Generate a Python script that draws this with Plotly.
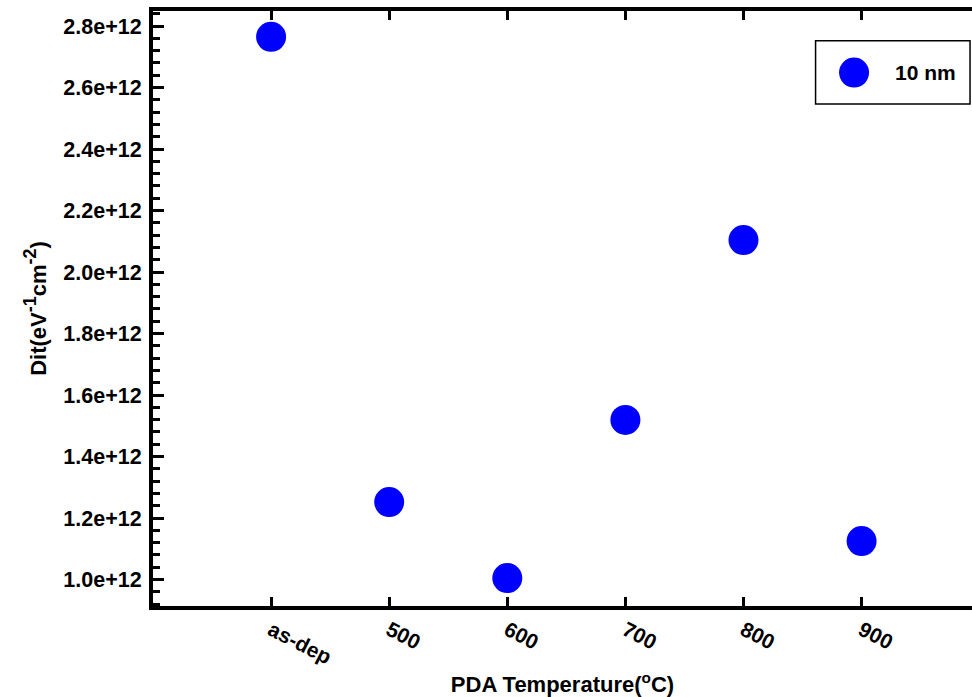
import plotly.graph_objects as go

# PDA temperature series and interface-trap density
categories = ["as-dep", "500", "600", "700", "800", "900"]
dit_values = [2.765e12, 1.252e12, 1.005e12, 1.519e12, 2.104e12, 1.125e12]
series_name = "10 nm"
y_tick_values = [1.0e12, 1.2e12, 1.4e12, 1.6e12, 1.8e12, 2.0e12, 2.2e12, 2.4e12, 2.6e12, 2.8e12]

FONT = "Liberation Sans, Arial, sans-serif"
BLUE = "#0000ff"

fig = go.Figure()
fig.add_trace(go.Scatter(
    x=categories, y=dit_values, mode="markers", name=series_name,
    marker=dict(color=BLUE, size=30, line=dict(width=0)),
    showlegend=False,
))

fig.update_layout(
    width=972, height=697,
    margin=dict(l=153, r=0, t=11, b=91),
    plot_bgcolor="white", paper_bgcolor="white",
    font=dict(family=FONT, color="black"),
    xaxis=dict(
        type="category", range=[-1, 5.935],
        showline=True, linecolor="black", linewidth=4, mirror="ticks",
        ticks="inside", ticklen=9, tickwidth=3, tickcolor="black",
        tickangle=27, showgrid=False, zeroline=False,
        tickfont=dict(size=21, weight="bold", family=FONT),
        title=dict(text="PDA Temperature(<sup>o</sup>C)",
                   font=dict(size=22, weight="bold", family=FONT), standoff=10),
    ),
    yaxis=dict(
        range=[0.914e12, 2.849e12],
        tickvals=y_tick_values, tickformat=".1e",
        showline=True, linecolor="black", linewidth=4, mirror=False,
        ticks="inside", ticklen=11, tickwidth=3, tickcolor="black",
        minor=dict(dtick=0.04e12, tick0=1.0e12, ticks="inside", ticklen=7,
                   tickwidth=3, tickcolor="black", showgrid=False),
        showgrid=False, zeroline=False,
        tickfont=dict(size=21.5, weight="bold", family=FONT),
        ticklabelstandoff=3,
        title=dict(text="Dit(eV<sup><span style=\"font-size:18px\">-1</span></sup>"
                        "cm<sup><span style=\"font-size:18px\">-2</span></sup>)",
                   font=dict(size=22, weight="bold", family=FONT), standoff=12),
    ),
    yaxis2=dict(
        overlaying="y", side="right", anchor="x", matches="y",
        range=[0.914e12, 2.849e12], tickvals=y_tick_values,
        showticklabels=False, showline=False, showgrid=False, zeroline=False,
        ticks="inside", ticklen=3, tickwidth=3, tickcolor="black",
    ),
)

# Legend box with a full-size marker
fig.add_shape(type="rect", xref="paper", yref="paper",
              x0=0.809, x1=0.9976, y0=0.8437, y1=0.950,
              line=dict(color="black", width=1.5), fillcolor="white", layer="above")
fig.add_shape(type="circle", xref="paper", yref="paper",
              xsizemode="pixel", ysizemode="pixel",
              xanchor=0.856, yanchor=0.8966, x0=-15, x1=15, y0=-15, y1=15,
              line=dict(width=0), fillcolor=BLUE, layer="above")
fig.add_annotation(xref="paper", yref="paper", x=0.9035, y=0.8966,
                   xanchor="left", yanchor="middle", showarrow=False,
                   text=series_name, font=dict(size=21, weight="bold", family=FONT))

fig.write_html("out.html")
